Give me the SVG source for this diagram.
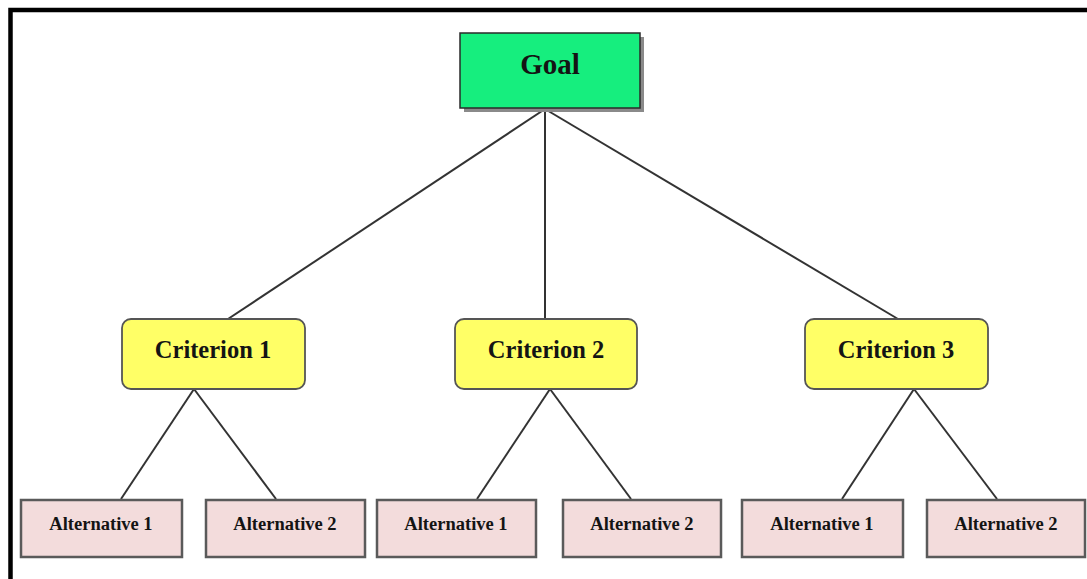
<svg xmlns="http://www.w3.org/2000/svg" width="1087" height="579" viewBox="0 0 1087 579">
<defs>
<style>
.t{font-family:"Liberation Serif","Times New Roman",serif;font-weight:bold;fill:#141414;text-anchor:middle}
.goal{fill:#16EE7E;stroke:#2a2a2a;stroke-width:1.5}
.crit{fill:#FFFF66;stroke:#555;stroke-width:1.8}
.alt{fill:#F3DCDC;stroke:#5a5a5a;stroke-width:2.5}
.shadow{fill:#8a8a8a}
.edge{stroke:#333;stroke-width:2;fill:none}
</style>
</defs>
<rect width="1087" height="579" fill="#fff"/>
<path d="M10.5,579 V10 H1087" fill="none" stroke="#000" stroke-width="4.5"/>
<g id="connectors">
<line class="edge" x1="545" y1="109" x2="228" y2="319"/>
<line class="edge" x1="545" y1="109" x2="545" y2="319"/>
<line class="edge" x1="545" y1="109" x2="898" y2="319"/>
<line class="edge" x1="194" y1="389" x2="121" y2="499"/>
<line class="edge" x1="194" y1="389" x2="276" y2="499"/>
<line class="edge" x1="550" y1="389" x2="477" y2="499"/>
<line class="edge" x1="550" y1="389" x2="631" y2="499"/>
<line class="edge" x1="914" y1="389" x2="842" y2="499"/>
<line class="edge" x1="914" y1="389" x2="997" y2="499"/>
</g>
<g id="goal">
<rect class="shadow" x="464" y="37" width="180" height="75"/>
<rect class="goal" x="460" y="33" width="180" height="75"/>
<text class="t" x="550" y="74" font-size="29">Goal</text>
</g>
<g id="criterion1">
<rect class="crit" x="122" y="319" width="183" height="70" rx="9"/>
<text class="t" x="213" y="358" font-size="24.5">Criterion 1</text>
</g>
<g id="criterion2">
<rect class="crit" x="455" y="319" width="182" height="70" rx="9"/>
<text class="t" x="546" y="358" font-size="24.5">Criterion 2</text>
</g>
<g id="criterion3">
<rect class="crit" x="805" y="319" width="183" height="70" rx="9"/>
<text class="t" x="896" y="358" font-size="24.5">Criterion 3</text>
</g>
<g id="alt1a">
<rect class="alt" x="21" y="500" width="161" height="57"/>
<text class="t" x="101" y="530" font-size="18.5">Alternative 1</text>
</g>
<g id="alt1b">
<rect class="alt" x="206" y="500" width="159" height="57"/>
<text class="t" x="285" y="530" font-size="18.5">Alternative 2</text>
</g>
<g id="alt2a">
<rect class="alt" x="377" y="500" width="159" height="57"/>
<text class="t" x="456" y="530" font-size="18.5">Alternative 1</text>
</g>
<g id="alt2b">
<rect class="alt" x="563" y="500" width="158" height="57"/>
<text class="t" x="642" y="530" font-size="18.5">Alternative 2</text>
</g>
<g id="alt3a">
<rect class="alt" x="742" y="500" width="161" height="57"/>
<text class="t" x="822" y="530" font-size="18.5">Alternative 1</text>
</g>
<g id="alt3b">
<rect class="alt" x="927" y="500" width="158" height="57"/>
<text class="t" x="1006" y="530" font-size="18.5">Alternative 2</text>
</g>
</svg>
